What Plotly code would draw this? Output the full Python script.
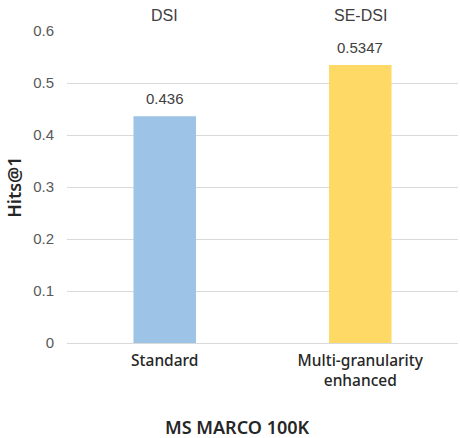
import plotly.graph_objects as go

categories = ["Standard", "Multi-granularity<br>enhanced"]
values = [0.436, 0.5347]
value_labels = ["0.436", "0.5347"]
method_names = ["DSI", "SE-DSI"]
bar_colors = ["#9DC3E6", "#FFD966"]
y_ticks = [0, 0.1, 0.2, 0.3, 0.4, 0.5, 0.6]
y_tick_text = ["0", "0.1", "0.2", "0.3", "0.4", "0.5", "0.6"]

fig = go.Figure()
fig.add_trace(go.Bar(x=categories, y=values, marker=dict(color=bar_colors, line=dict(width=0)),
                     width=0.32, hoverinfo="skip"))

annotations = []
for c, v, t, m in zip(categories, values, value_labels, method_names):
    annotations.append(dict(x=c, y=v, xref="x", yref="y", text=t, showarrow=False,
                            yanchor="bottom", yshift=7,
                            font=dict(family="Liberation Sans, Arial", size=15, color="#404040")))
    annotations.append(dict(x=c, y=1, xref="x", yref="paper", text=m, showarrow=False,
                            yanchor="bottom", yshift=5,
                            font=dict(family="Liberation Sans, Arial", size=16, color="#404040")))
annotations.append(dict(x=0.436, y=-0.269, xref="paper", yref="paper", text="MS MARCO 100K",
                        showarrow=False, xanchor="center", yanchor="middle",
                        font=dict(family="Noto Sans", size=18, color="#262626", weight=600)))
annotations.append(dict(x=-0.136, y=0.5, xref="paper", yref="paper", text="Hits@1",
                        showarrow=False, textangle=-90, xanchor="center", yanchor="middle",
                        font=dict(family="Noto Sans", size=18, color="#262626", weight=600)))

fig.update_layout(
    width=460, height=438,
    margin=dict(l=67, r=2, t=31, b=95),
    paper_bgcolor="white", plot_bgcolor="white",
    showlegend=False,
    bargap=0.68,
    annotations=annotations,
    xaxis=dict(showgrid=False, zeroline=False, showline=False, ticks="", ticklabelstandoff=6,
               tickfont=dict(family="Noto Sans", size=15.5, color="#262626", weight=500)),
    yaxis=dict(range=[0, 0.6], tickvals=y_ticks, ticktext=y_tick_text,
               showgrid=True, gridcolor="#D9D9D9", gridwidth=1,
               zeroline=True, zerolinecolor="#D9D9D9", zerolinewidth=1,
               showline=False, ticks="", ticklabelstandoff=12,
               tickfont=dict(family="Liberation Sans, Arial", size=15, color="#595959")),
)

fig.write_html("out.html", config={"displayModeBar": False},
               post_script="document.body.style.margin='0';document.body.style.overflow='hidden';")
